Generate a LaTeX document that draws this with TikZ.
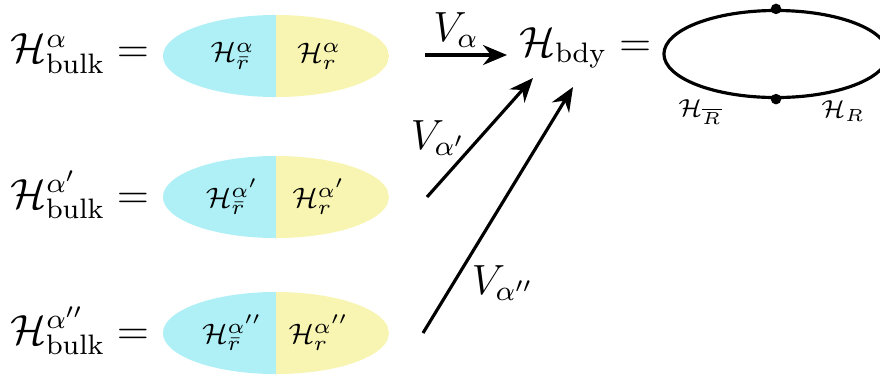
\documentclass[tikz,border=0pt]{standalone}
\usepackage{amsmath,amssymb}
\usetikzlibrary{arrows.meta,positioning,calc,shapes.geometric}
\definecolor{Aqua}{HTML}{AEF0F6}
\definecolor{Lemon}{HTML}{F8F5B3}
\tikzset{
  arr/.style={-{Stealth[length=2.4mm,width=2mm,inset=0.8mm]},line width=0.9pt},
  halves/.style={ellipse,minimum width=2.26cm,minimum height=0.82cm,inner sep=0pt,
    path picture={\fill[Aqua] (path picture bounding box.north west) rectangle (path picture bounding box.south);
      \fill[Lemon] (path picture bounding box.north) rectangle (path picture bounding box.south east);}},
  bulk/.style={font=\large,anchor=east,inner sep=1pt},
  part/.style={font=\footnotesize,inner sep=0pt},
  vlabel/.style={font=\large,inner sep=1pt},
  dot/.style={circle,fill=black,inner sep=0pt,minimum size=3pt}
}
\begin{document}
\begin{tikzpicture}[x=0.01cm,y=-0.01cm]
  \useasboundingbox (0,0) rectangle (880,378);
  % three bulk regions
  \node[halves] (e1) at (276,56) {};
  \node[halves] (e2) at (276,197) {};
  \node[halves] (e3) at (276,333) {};
  \node[bulk] (b1) at ($(e1.west)+(-9,-2)$) {$\mathcal{H}^{\alpha}_{\mathrm{bulk}} =$};
  \node[bulk] (b2) at ($(e2.west)+(-9,-2)$) {$\mathcal{H}^{\alpha'}_{\mathrm{bulk}} =$};
  \node[bulk] (b3) at ($(e3.west)+(-9,-2)$) {$\mathcal{H}^{\alpha''}_{\mathrm{bulk}} =$};
  \node[part] at ($(e1.center)!0.38!(e1.west)$) {$\mathcal{H}^{\alpha}_{\bar r}$};
  \node[part] at ($(e1.center)!0.38!(e1.east)$) {$\mathcal{H}^{\alpha}_{r}$};
  \node[part] at ($(e2.center)!0.38!(e2.west)$) {$\mathcal{H}^{\alpha'}_{\bar r}$};
  \node[part] at ($(e2.center)!0.38!(e2.east)$) {$\mathcal{H}^{\alpha'}_{r}$};
  \node[part] at ($(e3.center)!0.38!(e3.west)$) {$\mathcal{H}^{\alpha''}_{\bar r}$};
  \node[part] at ($(e3.center)!0.38!(e3.east)$) {$\mathcal{H}^{\alpha''}_{r}$};
  % boundary
  \node[ellipse,draw,line width=0.9pt,minimum width=2.24cm,minimum height=0.87cm,inner sep=0pt] (bd) at (776,54) {};
  \node[font=\large,anchor=east,inner sep=1pt] (bdy) at ($(bd.west)+(-7,-6)$) {$\mathcal{H}_{\mathrm{bdy}} =$};
  \node[dot] at (bd.north) {};
  \node[dot] at (bd.south) {};
  \node[font=\scriptsize,inner sep=0pt] at (700,112) {$\mathcal{H}_{\overline{R}}$};
  \node[font=\scriptsize,inner sep=0pt] at (843,111) {$\mathcal{H}_{R}$};
  % maps
  \coordinate (s1) at (425,55); \coordinate (t1) at (507,55);
  \coordinate (s2) at (427,197); \coordinate (t2) at (533,78);
  \coordinate (s3) at (423,333); \coordinate (t3) at (573,87);
  \draw[arr] (s1) -- (t1);
  \draw[arr] (s2) -- (t2);
  \draw[arr] (s3) -- (t3);
  \node[vlabel] at (456,30) {$V_{\alpha}$};
  \node[vlabel] at (438,138) {$V_{\alpha'}$};
  \node[vlabel] at (503,283) {$V_{\alpha''}$};
\end{tikzpicture}
\end{document}
